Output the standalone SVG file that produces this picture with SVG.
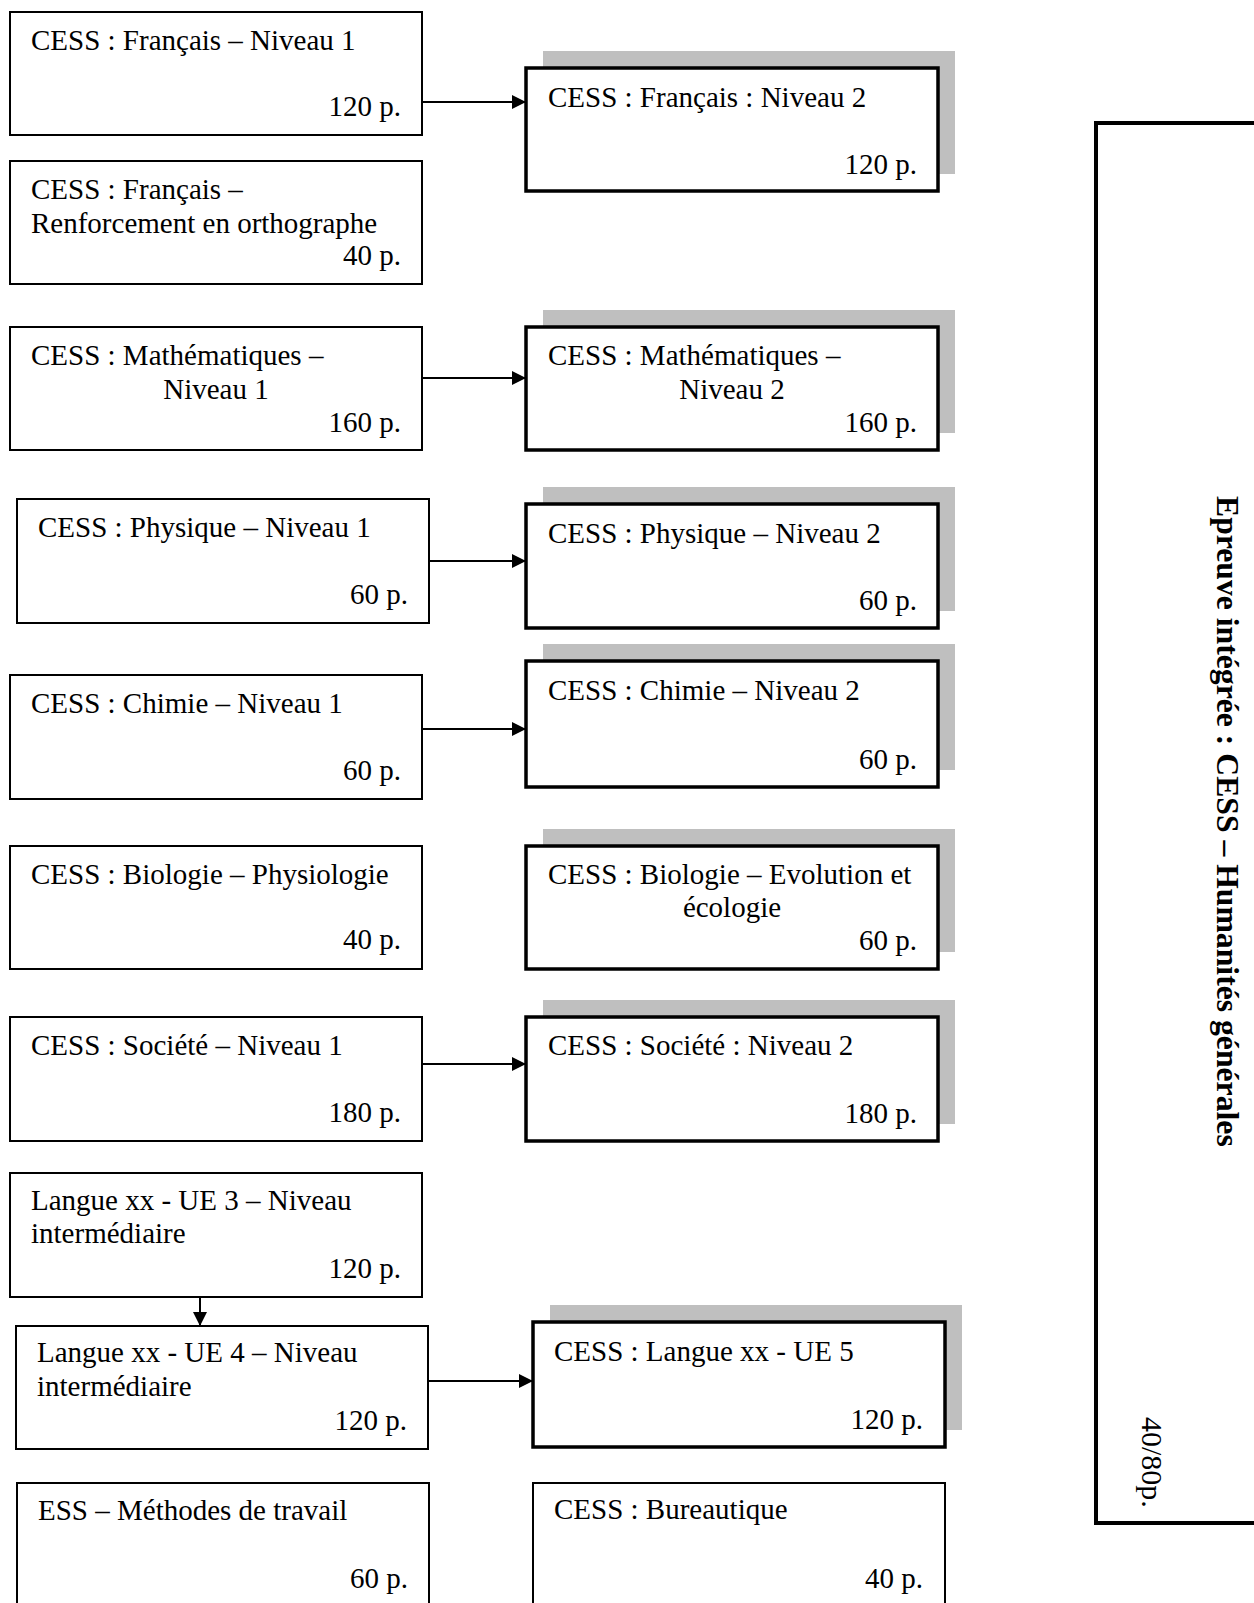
<svg xmlns="http://www.w3.org/2000/svg" width="1254" height="1603" viewBox="0 0 1254 1603">
<style>
.t{font-family:"Liberation Serif","Times New Roman",serif;font-size:29px;fill:#000}
.r{text-anchor:end}
.c{text-anchor:middle}
.b{font-weight:bold;font-size:31.7px}
.n{fill:#fff;stroke:#000;stroke-width:2}
.k{fill:#fff;stroke:#000;stroke-width:3.5}
.s{fill:#bfbfbf}
.a{stroke:#000;stroke-width:2;fill:none;marker-end:url(#ah)}
</style>
<defs>
<marker id="ah" markerUnits="userSpaceOnUse" markerWidth="15" markerHeight="15" refX="14" refY="7" orient="auto">
<path d="M0,0 L14,7 L0,14 z" fill="#000"/>
</marker>
</defs>
<rect width="1254" height="1603" fill="#fff"/>

<g id="L1"><rect class="n" x="10" y="12" width="412" height="123"/>
<text class="t" x="31" y="50">CESS : Français – Niveau 1</text>
<text class="t r" x="401" y="116">120 p.</text></g>

<g id="L2"><rect class="n" x="10" y="161" width="412" height="123"/>
<text class="t" x="31" y="199">CESS : Français –</text>
<text class="t" x="31" y="233">Renforcement en orthographe</text>
<text class="t r" x="401" y="265">40 p.</text></g>

<g id="L3"><rect class="n" x="10" y="327" width="412" height="123"/>
<text class="t" x="31" y="365">CESS : Mathématiques –</text>
<text class="t c" x="216" y="399">Niveau 1</text>
<text class="t r" x="401" y="432">160 p.</text></g>

<g id="L4"><rect class="n" x="17" y="499" width="412" height="124"/>
<text class="t" x="38" y="537">CESS : Physique – Niveau 1</text>
<text class="t r" x="408" y="604">60 p.</text></g>

<g id="L5"><rect class="n" x="10" y="675" width="412" height="124"/>
<text class="t" x="31" y="713">CESS : Chimie – Niveau 1</text>
<text class="t r" x="401" y="780">60 p.</text></g>

<g id="L6"><rect class="n" x="10" y="846" width="412" height="123"/>
<text class="t" x="31" y="884">CESS : Biologie – Physiologie</text>
<text class="t r" x="401" y="949">40 p.</text></g>

<g id="L7"><rect class="n" x="10" y="1017" width="412" height="124"/>
<text class="t" x="31" y="1055">CESS : Société – Niveau 1</text>
<text class="t r" x="401" y="1122">180 p.</text></g>

<g id="L8"><rect class="n" x="10" y="1173" width="412" height="124"/>
<text class="t" x="31" y="1210">Langue xx - UE 3 – Niveau</text>
<text class="t" x="31" y="1243">intermédiaire</text>
<text class="t r" x="401" y="1278">120 p.</text></g>

<g id="L9"><rect class="n" x="16" y="1326" width="412" height="123"/>
<text class="t" x="37" y="1362">Langue xx - UE 4 – Niveau</text>
<text class="t" x="37" y="1396">intermédiaire</text>
<text class="t r" x="407" y="1430">120 p.</text></g>

<g id="L10"><rect class="n" x="17" y="1483" width="412" height="140"/>
<text class="t" x="38" y="1520">ESS – Méthodes de travail</text>
<text class="t r" x="408" y="1588">60 p.</text></g>

<g id="R1"><rect class="s" x="543" y="51" width="412" height="123"/><rect class="k" x="526" y="68" width="412" height="123"/>
<text class="t" x="548" y="107">CESS : Français : Niveau 2</text>
<text class="t r" x="917" y="174">120 p.</text></g>

<g id="R2"><rect class="s" x="543" y="310" width="412" height="123"/><rect class="k" x="526" y="327" width="412" height="123"/>
<text class="t" x="548" y="365">CESS : Mathématiques –</text>
<text class="t c" x="732" y="399">Niveau 2</text>
<text class="t r" x="917" y="432">160 p.</text></g>

<g id="R3"><rect class="s" x="543" y="487" width="412" height="124"/><rect class="k" x="526" y="504" width="412" height="124"/>
<text class="t" x="548" y="543">CESS : Physique – Niveau 2</text>
<text class="t r" x="917" y="610">60 p.</text></g>

<g id="R4"><rect class="s" x="543" y="644" width="412" height="126"/><rect class="k" x="526" y="661" width="412" height="126"/>
<text class="t" x="548" y="700">CESS : Chimie – Niveau 2</text>
<text class="t r" x="917" y="769">60 p.</text></g>

<g id="R5"><rect class="s" x="543" y="829" width="412" height="123"/><rect class="k" x="526" y="846" width="412" height="123"/>
<text class="t" x="548" y="884">CESS : Biologie – Evolution et</text>
<text class="t c" x="732" y="917">écologie</text>
<text class="t r" x="917" y="950">60 p.</text></g>

<g id="R6"><rect class="s" x="543" y="1000" width="412" height="124"/><rect class="k" x="526" y="1017" width="412" height="124"/>
<text class="t" x="548" y="1055">CESS : Société : Niveau 2</text>
<text class="t r" x="917" y="1123">180 p.</text></g>

<g id="R7"><rect class="s" x="550" y="1305" width="412" height="125"/><rect class="k" x="533" y="1322" width="412" height="125"/>
<text class="t" x="554" y="1361">CESS : Langue xx - UE 5</text>
<text class="t r" x="923" y="1429">120 p.</text></g>

<g id="R8"><rect class="n" x="533" y="1483" width="412" height="140"/>
<text class="t" x="554" y="1519">CESS : Bureautique</text>
<text class="t r" x="923" y="1588">40 p.</text></g>

<g id="EI"><rect x="1096" y="123" width="220" height="1400" fill="none" stroke="#000" stroke-width="4"/>
<text class="t b" transform="translate(1217,496) rotate(90)">Epreuve intégrée : CESS – Humanités générales</text>
<text class="t" style="font-size:30px" transform="translate(1142,1417) rotate(90)">40/80p.</text></g>

<g id="connectors">
<line class="a" x1="422" y1="102" x2="526" y2="102"/>
<line class="a" x1="422" y1="378" x2="526" y2="378"/>
<line class="a" x1="429" y1="561" x2="526" y2="561"/>
<line class="a" x1="422" y1="729" x2="526" y2="729"/>
<line class="a" x1="422" y1="1064" x2="526" y2="1064"/>
<line class="a" x1="428" y1="1381" x2="533" y2="1381"/>
<line class="a" x1="200" y1="1297" x2="200" y2="1326"/>
</g>
</svg>
